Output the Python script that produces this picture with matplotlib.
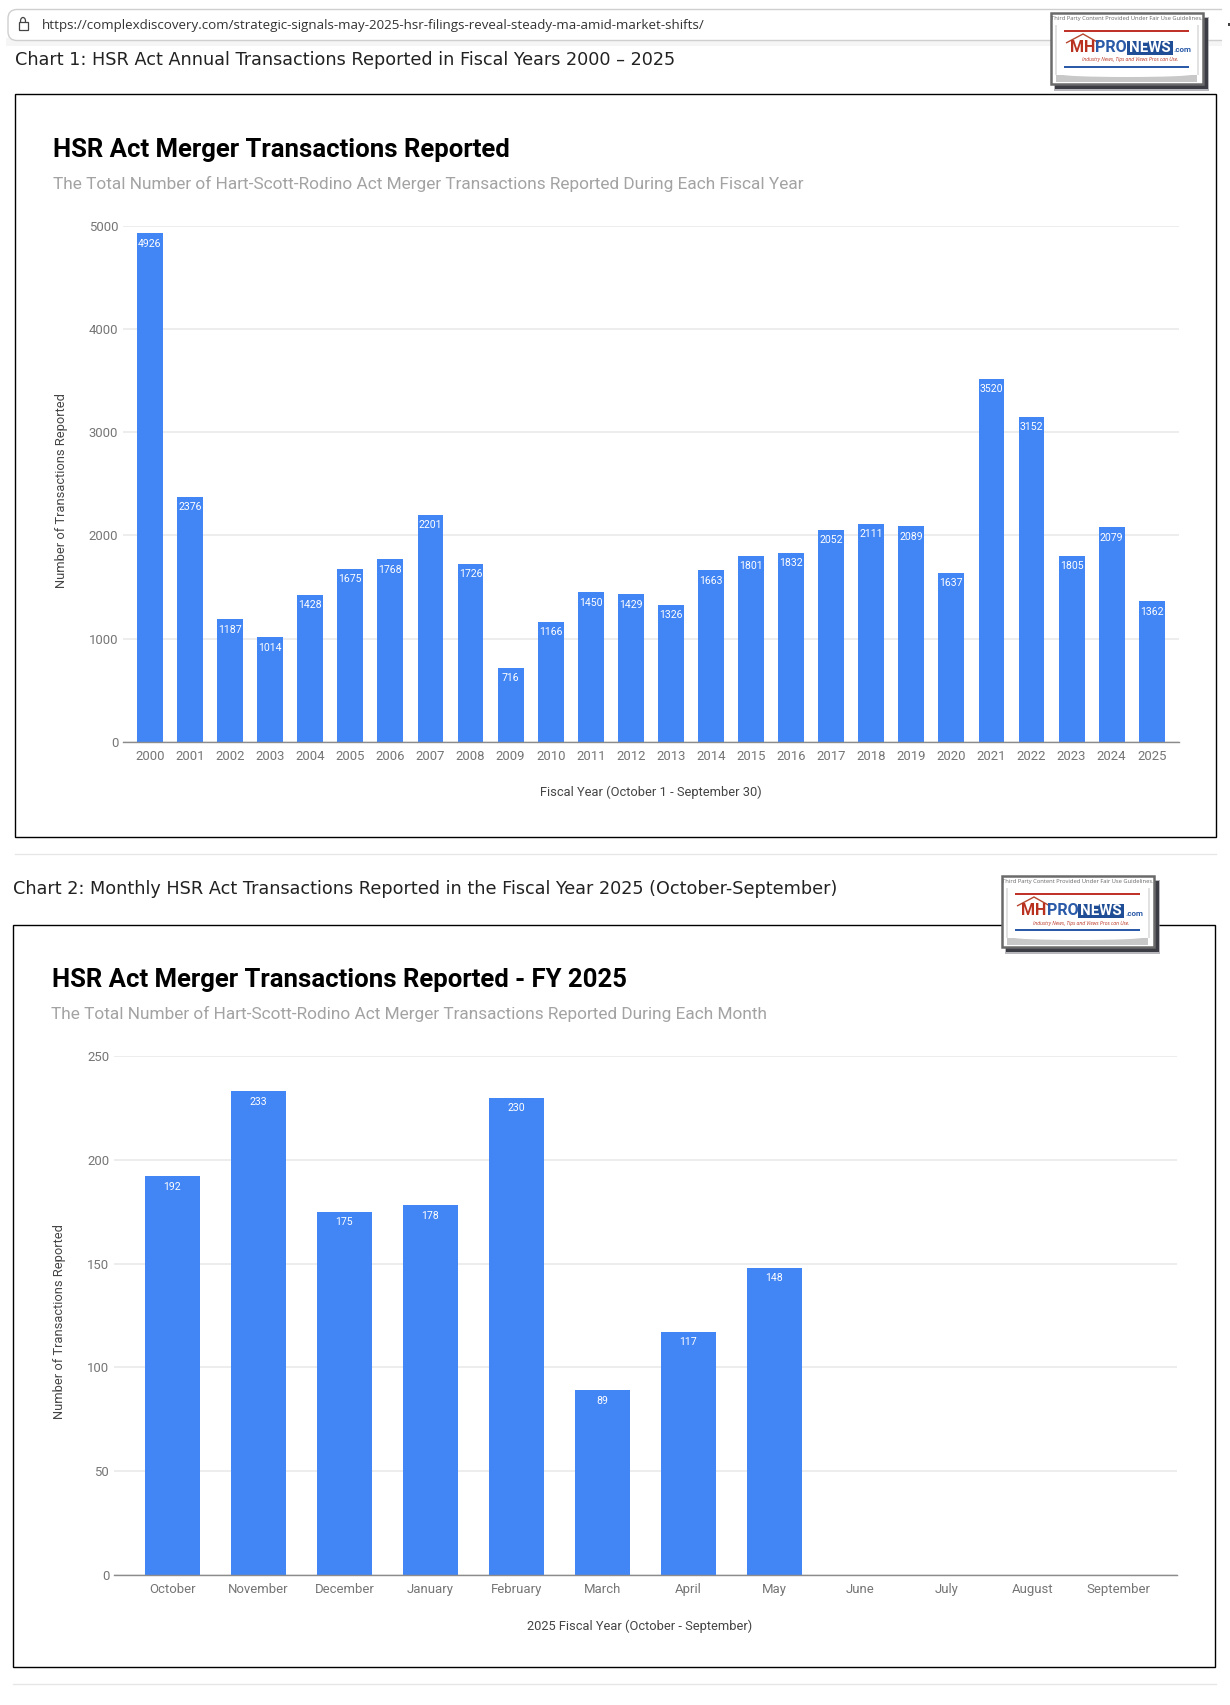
import matplotlib
matplotlib.use("Agg")
import matplotlib.pyplot as plt
from matplotlib.patches import Rectangle, FancyBboxPatch, Polygon, Ellipse

W, H = 1230, 1705

# data
years = [str(y) for y in range(2000, 2026)]
year_counts = [4926, 2376, 1187, 1014, 1428, 1675, 1768, 2201, 1726, 716, 1166, 1450, 1429,
               1326, 1663, 1801, 1832, 2052, 2111, 2089, 1637, 3520, 3152, 1805, 2079, 1362]
year_ticks = [0, 1000, 2000, 3000, 4000, 5000]

months = ["October", "November", "December", "January", "February", "March", "April", "May",
          "June", "July", "August", "September"]
month_counts = [192, 233, 175, 178, 230, 89, 117, 148]
month_ticks = [0, 50, 100, 150, 200, 250]

url = "https://complexdiscovery.com/strategic-signals-may-2025-hsr-filings-reveal-steady-ma-amid-market-shifts/"
heading1 = "Chart 1: HSR Act Annual Transactions Reported in Fiscal Years 2000 – 2025"
heading2 = "Chart 2: Monthly HSR Act Transactions Reported in the Fiscal Year 2025 (October-September)"
sub1 = "The Total Number of Hart-Scott-Rodino Act Merger Transactions Reported During Each Fiscal Year"
sub2 = "The Total Number of Hart-Scott-Rodino Act Merger Transactions Reported During Each Month"

BLUE = "#4285f4"
GREY = "#757575"


def px(size):
    # font size given in pixels
    return size * 0.72


fig = plt.figure(figsize=(W / 100, H / 100), dpi=100, facecolor="white")

# page layer in pixel coordinates
page = fig.add_axes([0, 0, 1, 1], zorder=0)
page.set_xlim(0, W)
page.set_ylim(H, 0)
page.axis("off")


def add_logo(x, y):
    # logo sits above the chart axes, so it goes on its own layer
    logo = fig.add_axes([0, 0, 1, 1], zorder=5)
    logo.set_xlim(0, W)
    logo.set_ylim(H, 0)
    logo.axis("off")
    # soft drop shadow then frame
    logo.add_patch(Rectangle((x + 3, y + 4), 155, 74, fc="#8a8a90", ec="none", alpha=0.6, zorder=7))
    logo.add_patch(Rectangle((x + 4, y + 5), 153, 71, fc="#3c3c44", ec="none", zorder=8))
    logo.add_patch(Rectangle((x, y), 152, 71, fc="white", ec="#6a6a6a", lw=1.8, zorder=9))
    logo.add_patch(Rectangle((x + 5, y + 62), 141, 7, fc="#c8c8c8", ec="none", zorder=9))
    logo.add_patch(Ellipse((x + 76, y + 61.5), 130, 5, fc="white", ec="none", zorder=9))
    logo.add_patch(Rectangle((x + 4, y + 12), 1.5, 50, fc="#e2e2e2", ec="none", zorder=9))
    logo.add_patch(Rectangle((x + 146, y + 12), 1.5, 50, fc="#e2e2e2", ec="none", zorder=9))
    logo.text(x + 76, y + 5.5, "Third Party Content Provided Under Fair Use Guidelines.", fontsize=px(5.75),
              family="Open Sans", color="#666666", ha="center", va="center", zorder=10)
    logo.add_patch(Rectangle((x + 13, y + 16.5), 125, 2.4, fc="#c0332b", ec="none", zorder=10))
    logo.add_patch(Rectangle((x + 13, y + 52.5), 125, 2.4, fc="#2a5aa8", ec="none", zorder=10))
    logo.add_patch(Polygon([(x + 15, y + 30), (x + 32, y + 21), (x + 48, y + 30)], closed=False,
                           fc="none", ec="#b5472f", lw=1, zorder=10))
    logo.text(x + 19, y + 34.5, "MH", fontsize=px(16), weight="bold", family="Roboto", color="#b8321f",
              va="center", zorder=10)
    logo.text(x + 44.5, y + 34.5, "PRO", fontsize=px(16), weight="bold", family="Roboto", color="#2a5aa8",
              va="center", zorder=10)
    logo.add_patch(Rectangle((x + 76, y + 28), 46, 13.5, fc="#1f4e96", ec="none", zorder=10))
    logo.text(x + 99, y + 34.8, "NEWS", fontsize=px(15), weight="bold", family="Roboto", color="white",
              ha="center", va="center", zorder=11)
    logo.text(x + 123, y + 37, ".com", fontsize=px(8), weight="bold", family="Roboto", color="#2a5aa8",
              va="center", zorder=10)
    logo.text(x + 79, y + 47, "Industry News, Tips and Views Pros can Use.", fontsize=px(5), style="italic",
              family="Open Sans", color="#b8321f", ha="center", va="center", zorder=10)


def draw_chart(frame, rect, first, pitch, labels, values, ticks, ymax, title, subtitle, ylabel, xlabel,
               title_xy, sub_xy, ylabel_xy, xlabel_xy, label_size):
    fx0, fy0, fx1, fy1 = frame
    page.add_patch(Rectangle((fx0, fy0), fx1 - fx0, fy1 - fy0, fc="white", ec="black", lw=1, zorder=1))
    x0, y0, x1, y1 = rect
    ax = fig.add_axes([x0 / W, 1 - y1 / H, (x1 - x0) / W, (y1 - y0) / H], zorder=2)
    ax.patch.set_alpha(0)
    ax.bar(range(len(values)), values, width=0.645, color=BLUE, zorder=3)
    ax.set_xlim((x0 - first) / pitch, (x1 - first) / pitch)
    ax.set_ylim(0, ymax)
    ax.set_yticks(ticks)
    ax.set_xticks(range(len(labels)))
    ax.set_xticklabels(labels)
    ax.tick_params(length=0, labelsize=px(13.1), labelcolor=GREY, labelfontfamily="Roboto")
    ax.tick_params(axis="x", pad=5.5)
    ax.tick_params(axis="y", pad=3.5)
    ax.grid(axis="y", color="#e8e8e8", lw=1.1, zorder=0)
    ax.set_axisbelow(True)
    for s in ["top", "left", "right"]:
        ax.spines[s].set_visible(False)
    ax.spines["bottom"].set_color("#8c8c8c")
    ax.spines["bottom"].set_linewidth(1)
    ax.spines["bottom"].set_zorder(5)
    for i, v in enumerate(values):
        ax.annotate(str(v), (i, v), xytext=(0, -3.8), textcoords="offset points", ha="center", va="top",
                    color="white", fontsize=px(label_size), family="Roboto", zorder=4)
    page.text(*title_xy, title, fontsize=px(25.8), weight="bold", family="Roboto", color="black",
              va="center", zorder=3)
    page.text(*sub_xy, subtitle, fontsize=px(17.28), family="Roboto", color="#a3a3a3", va="center", zorder=3)
    page.text(*ylabel_xy, ylabel, fontsize=px(12.9), family="Roboto", color="#444444", rotation=90,
              ha="center", va="center", zorder=3)
    page.text(*xlabel_xy, xlabel, fontsize=px(12.9), family="Roboto", color="#444444", ha="center",
              va="center", zorder=3)
    return ax


# browser bar
page.add_patch(Rectangle((6, 38), W - 12, 8, fc="#f5f5f5", ec="none", zorder=0))
page.add_patch(FancyBboxPatch((8, 9.5), 1240, 31, boxstyle="round,pad=0,rounding_size=9", fc="white",
                              ec="#cfcfcf", lw=1, zorder=1))
page.add_patch(Rectangle((1222, 0), 8, 60, fc="white", ec="none", zorder=1))
page.add_patch(Rectangle((18.5, 22), 9, 8, fc="white", ec="#444444", lw=0.9, zorder=2))
page.add_patch(Ellipse((23, 21), 5, 7, fc="none", ec="#444444", lw=0.9, zorder=1.5))
page.text(42, 25.5, url, fontsize=px(13.4), family="Open Sans", color="#333333", va="center", zorder=2)
page.add_patch(Rectangle((1228, 23), 2, 3, fc="#444444", ec="none", zorder=2))

# headings and separators
page.text(15, 60, heading1, fontsize=px(17.6), family="DejaVu Sans", color="#222222", va="center", zorder=2)
page.text(13, 889.5, heading2, fontsize=px(17.6), family="DejaVu Sans", color="#222222", va="center", zorder=2)
page.plot([15, 1216], [854, 854], color="#e6e6e6", lw=1, zorder=1)
page.plot([13, 1216], [1684, 1684], color="#e6e6e6", lw=1, zorder=1)

draw_chart((15, 94, 1216, 837), (123, 225.7, 1179, 742), 150, 40.07, years, year_counts, year_ticks, 5000,
           "HSR Act Merger Transactions Reported", sub1,
           "Number of Transactions Reported", "Fiscal Year (October 1 - September 30)",
           (53, 149.5), (53, 184), (61, 491), (651, 792), 10.5)
draw_chart((13, 924.5, 1215, 1667), (114, 1056, 1177, 1575), 172.4, 86, months, month_counts, month_ticks, 250,
           "HSR Act Merger Transactions Reported - FY 2025", sub2,
           "Number of Transactions Reported", "2025 Fiscal Year (October - September)",
           (52, 980.5), (51, 1014), (59, 1322), (640, 1626), 10.5)

add_logo(1051, 13)
add_logo(1002, 876)

fig.savefig("out.png", dpi=100)
